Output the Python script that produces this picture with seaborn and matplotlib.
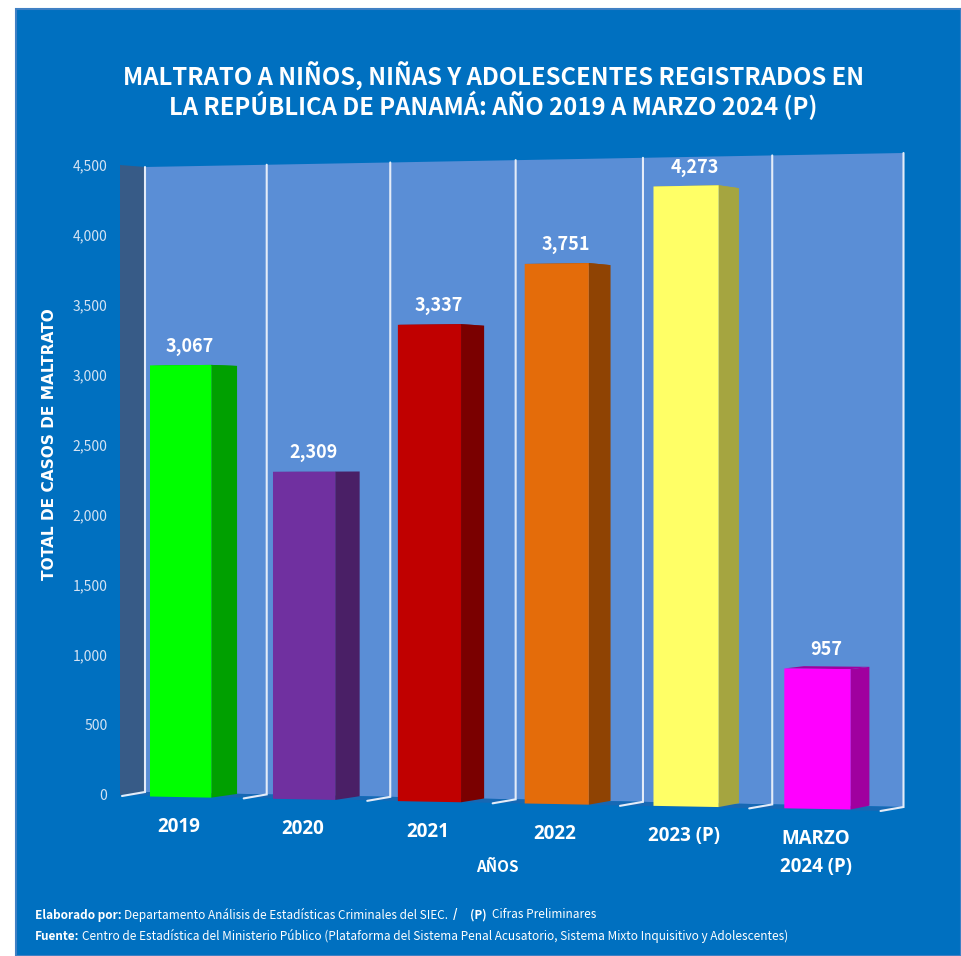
"""Maltrato a ninos, ninas y adolescentes: faux 3D bar chart."""
import matplotlib
matplotlib.use("Agg")
import matplotlib.pyplot as plt
import matplotlib.transforms as mtransforms
from matplotlib.patches import Polygon, Rectangle
from matplotlib.ticker import StrMethodFormatter
import numpy as np
import seaborn as sns

# data
categories = ["2019", "2020", "2021", "2022", "2023 (P)", "MARZO\n2024 (P)"]
casos = [3067, 2309, 3337, 3751, 4273, 957]
front_colors = ["#00ff00", "#7030a0", "#c00000", "#e46c0a", "#ffff66", "#ff00ff"]
side_colors = ["#00a000", "#4a1f66", "#7a0000", "#8f4303", "#a5a540", "#a0009f"]
y_ticks = [0, 500, 1000, 1500, 2000, 2500, 3000, 3500, 4000, 4500]

W, H = 961, 956
BLUE = "#0070c0"
WALL = "#5a8ed6"
LINE = "#e4ecf8"
NARROW = ["Noto Sans CJK JP", "DejaVu Sans"]


class Perspective(mtransforms.Transform):
    """Maps (category, value) on to canvas pixels through a homography."""
    input_dims = output_dims = 2

    def __init__(self, src, dst):
        super().__init__()
        rows, rhs = [], []
        for (x, y), (u, v) in zip(src, dst):
            rows.append([x, y, 1, 0, 0, 0, -u * x, -u * y])
            rows.append([0, 0, 0, x, y, 1, -v * x, -v * y])
            rhs += [u, v]
        self.m = np.append(np.linalg.solve(rows, rhs), 1).reshape(3, 3)

    def transform_non_affine(self, values):
        values = np.asarray(values, dtype=float)
        pts = np.column_stack([values, np.ones(len(values))]) @ self.m.T
        return pts[:, :2] / pts[:, 2:]


sns.set_theme(style="white")
fig = plt.figure(figsize=(W / 100, H / 100), dpi=100, facecolor="white")

# canvas in picture pixels, sits below the data axes
canvas = fig.add_axes([0, 0, 1, 1], zorder=0)
canvas.set_xlim(0, W)
canvas.set_ylim(H, 0)
canvas.axis("off")

# data axes, outer edge of the left wall
ax = fig.add_axes([119 / W, 1 - 795 / H, (903 - 119) / W, 630 / H], zorder=1)
ax.patch.set_visible(False)

canvas.add_patch(Rectangle((16, 9), W - 16, H - 9, fc=BLUE, ec="#3f80c4", lw=1.5))

bar_width = 0.5
front = Perspective(
    [(-0.25, 0), (-0.25, 4500), (5.25, 0), (5.25, 4500)],
    [(150, 796.5), (150, 164), (850.5, 809.5), (850.5, 149.5)],
)
wall = Perspective(
    [(-0.5, 0), (-0.5, 4500), (5.5, 0), (5.5, 4500)],
    [(145, 792), (145, 167), (903.5, 807), (903.5, 153)],
)
VANISH = np.array([2600, 455])
DEPTH = 0.0108

# back wall, floor and left wall
corners = wall.transform_non_affine([(-0.5, 0), (-0.5, 4500), (5.5, 4500), (5.5, 0)])
canvas.add_patch(Polygon(corners, fc=WALL, ec="none"))
canvas.add_patch(Polygon([corners[0], corners[3], (883, 811), (119, 795)], fc="#1668b4", ec="none"))
canvas.add_patch(Polygon([(120, 165), corners[1], corners[0], (120, 795)], fc="#375b87", ec="none"))

for edge in np.arange(-0.5, 6):
    (bx, by), (tx, ty) = wall.transform_non_affine([(edge, 0), (edge, 4500)])
    canvas.plot([tx, bx, bx - 23], [ty, by, by + 4], color=LINE, lw=1.5, solid_joinstyle="miter")

# bars
sns.barplot(x=categories, y=casos, hue=categories, palette=front_colors, legend=False,
            saturation=1, width=bar_width, ax=ax)
ax.set_xlim(-0.5, 5.5)
ax.set_ylim(0, 4500)

for i, bar in enumerate(ax.patches):
    bar.set_transform(front + canvas.transData)
    bar.set_clip_on(False)
    bar.set_linewidth(0)
    left, right = bar.get_x(), bar.get_x() + bar.get_width()
    top = bar.get_height()
    tl, tr, br = front.transform_non_affine([(left, top), (right, top), (right, 0)])
    back = lambda p: p + DEPTH * (VANISH - p)
    canvas.add_patch(Polygon([tl, tr, back(tr), back(tl)], fc=side_colors[i], ec="none", zorder=3))
    canvas.add_patch(Polygon([tr, br, back(br), back(tr)], fc=side_colors[i], ec="none", zorder=3))
    cx = (tl[0] + tr[0]) / 2
    canvas.text(cx + 9, tl[1] - 19, f"{casos[i]:,}", color="white", ha="center", va="center",
                fontsize=13, fontweight="bold", family=NARROW, zorder=4)
    base = front.transform_non_affine([(i, 0)])[0]
    canvas.text(base[0] - 1.5, base[1] + (30 if i < 5 else 44), categories[i], color="white",
                ha="center", va="center", fontsize=13.5, fontweight="bold", family="Open Sans",
                linespacing=1.5, zorder=4)

# axes text
ax.set_yticks(y_ticks)
ax.yaxis.set_major_formatter(StrMethodFormatter("{x:,.0f}"))
ax.tick_params(axis="y", length=0, pad=8.3, labelsize=10, labelcolor="#d5e3f3")
ax.tick_params(axis="x", bottom=False, labelbottom=False)
for label in ax.get_yticklabels():
    label.set_family(NARROW)
ax.set_xlabel("")
ax.set_ylabel("TOTAL DE CASOS DE MALTRATO", color="white", fontsize=11.1, fontweight="bold",
              family="DejaVu Sans")
ax.yaxis.set_label_coords((57 - 119) / 784, (795 - 444) / 630)
sns.despine(ax=ax, left=True, bottom=True)

canvas.text(497, 867, "AÑOS", color="white", ha="center", va="center", fontsize=11,
            fontweight="bold", family=NARROW)

canvas.text(493.5, 91, "MALTRATO A NIÑOS, NIÑAS Y ADOLESCENTES REGISTRADOS EN\n"
            "LA REPÚBLICA DE PANAMÁ: AÑO 2019 A MARZO 2024 (P)", color="white", ha="center",
            va="center", fontsize=17.2, fontweight="bold", family=NARROW, linespacing=1.0)

# footer, bold and regular runs
footer = [
    (35, 915, "Elaborado por:", "bold"),
    (124, 915, "Departamento Análisis de Estadísticas Criminales del SIEC.", "normal"),
    (453, 915, "/", "bold"),
    (470, 915, "(P)", "bold"),
    (492, 915, "Cifras Preliminares", "normal"),
    (35, 936, "Fuente:", "bold"),
    (82, 936, "Centro de Estadística del Ministerio Público (Plataforma del Sistema Penal "
     "Acusatorio, Sistema Mixto Inquisitivo y Adolescentes)", "normal"),
]
for x, y, text, weight in footer:
    canvas.text(x, y, text, color="white", ha="left", va="center", fontsize=8.5,
                fontweight=weight, family=NARROW)

fig.savefig("out.png", dpi=100)
